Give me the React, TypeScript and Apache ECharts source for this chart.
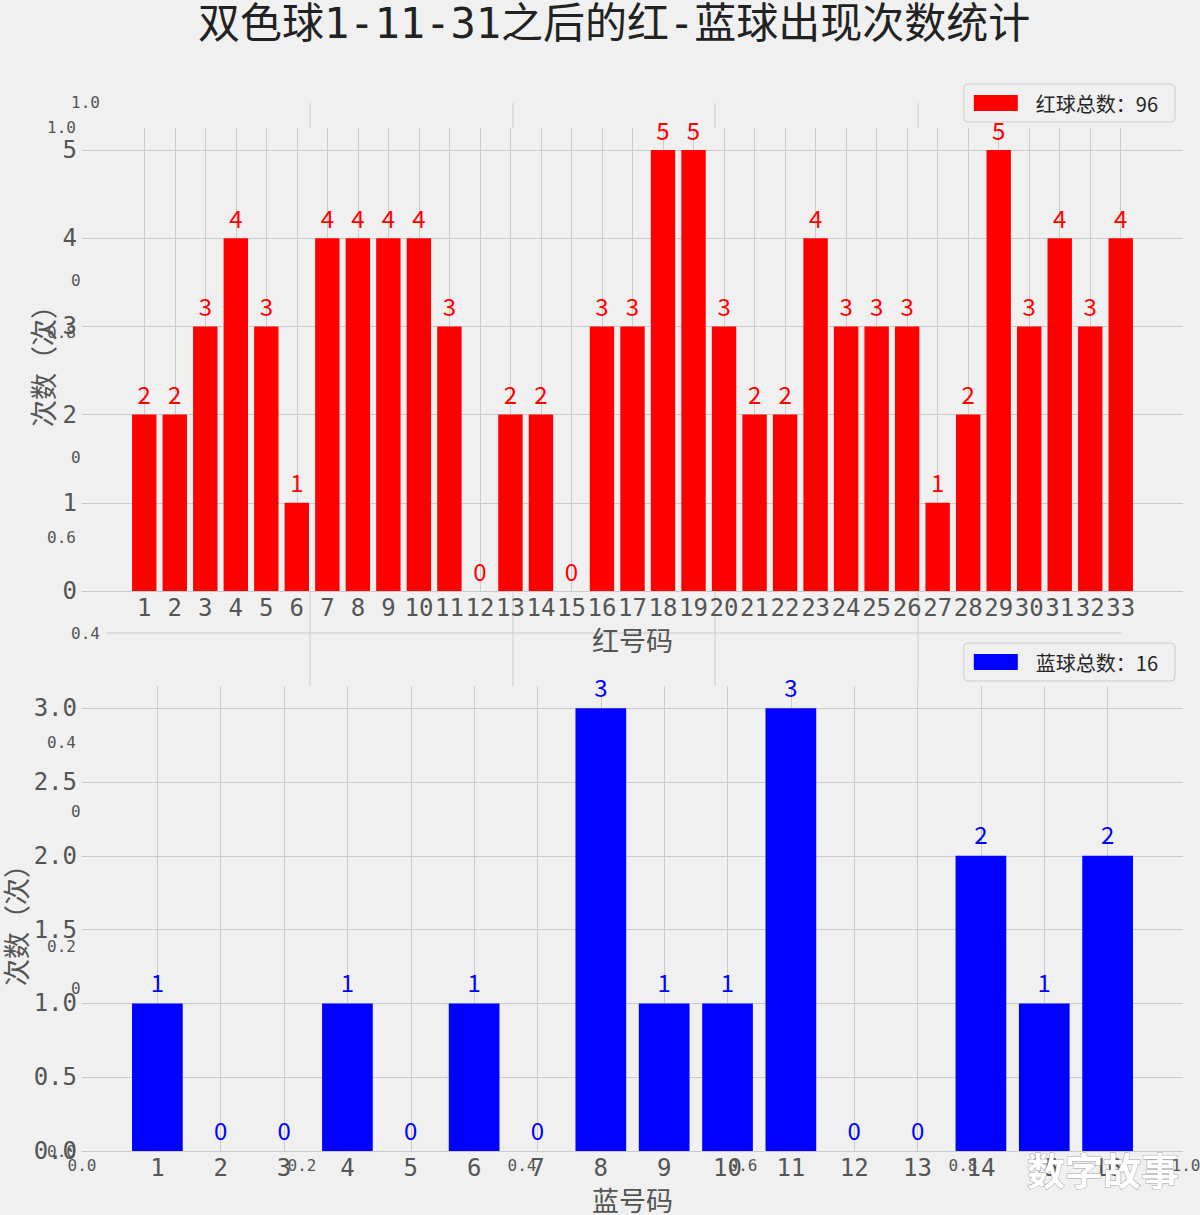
import React, { useEffect, useRef } from "react";
import * as echarts from "echarts";

// ---------------- data ----------------
const redNumbers = [1, 2, 3, 4, 5, 6, 7, 8, 9, 10, 11, 12, 13, 14, 15, 16, 17, 18, 19, 20, 21, 22, 23, 24, 25, 26, 27, 28, 29, 30, 31, 32, 33];
const redCounts = [2, 2, 3, 4, 3, 1, 4, 4, 4, 4, 3, 0, 2, 2, 0, 3, 3, 5, 5, 3, 2, 2, 4, 3, 3, 3, 1, 2, 5, 3, 4, 3, 4];
const blueNumbers = [1, 2, 3, 4, 5, 6, 7, 8, 9, 10, 11, 12, 13, 14, 15, 16];
const blueCounts = [1, 0, 0, 1, 0, 1, 0, 3, 1, 1, 3, 0, 0, 2, 1, 2];
const redYTicks = [0, 1, 2, 3, 4, 5];
const blueYTicks = [0, 0.5, 1, 1.5, 2, 2.5, 3];

const TITLE = "双色球1-11-31之后的红-蓝球出现次数统计";
const RED_X_NAME = "红号码";
const BLUE_X_NAME = "蓝号码";
const Y_NAME = "次数（次）";
const WATERMARK = "数字故事";

// stray labels of the hidden background axes (0..1 axes)
const bgTickTexts = ["1.0", "0.8", "0.6", "0.4", "0.2", "0.0"];

const FONT_CJK = '"Noto Sans CJK SC", "Noto Sans", sans-serif';
const FONT_NUM = '"DejaVu Sans Mono", "Noto Sans CJK SC", monospace';
const GRID_COLOR = "#cbcbcb";
const TEXT_GRAY = "#555555";

export default function App() {
  const ref = useRef<HTMLDivElement>(null);

  useEffect(() => {
    const chart = echarts.init(ref.current!, null, { renderer: "svg" });
    const redTotal = redCounts.reduce((a, b) => a + b, 0);
    const blueTotal = blueCounts.reduce((a, b) => a + b, 0);
    const redName = `红球总数：${redTotal}`;
    const blueName = `蓝球总数：${blueTotal}`;

    const smallText = (text: string, x: number, y: number, align: string) => ({
      type: "text",
      x,
      y,
      z: 1,
      silent: true,
      style: {
        text,
        font: `16px ${FONT_NUM}`,
        fill: TEXT_GRAY,
        textAlign: align,
        textVerticalAlign: "middle",
        align,
        verticalAlign: "middle",
      },
    });
    const gLine = (x1: number, y1: number, x2: number, y2: number) => ({
      type: "line",
      z: -1,
      silent: true,
      shape: { x1, y1, x2, y2 },
      style: { stroke: GRID_COLOR, lineWidth: 1 },
    });

    const graphics: any[] = [];
    // background axis A: vertical grid segments visible above top plot and in the gap
    [310, 513, 715, 918].forEach((x) => {
      graphics.push(gLine(x, 103, x, 128));
      graphics.push(gLine(x, 591, x, 686));
    });
    graphics.push(gLine(107, 633, 1121, 633));
    // axis A y labels (partly hidden)
    graphics.push(smallText(bgTickTexts[0], 100, 102, "right"));
    graphics.push(smallText("0", 71, 280, "left"));
    graphics.push(smallText("0", 71, 457, "left"));
    graphics.push(smallText(bgTickTexts[3], 100, 633, "right"));
    graphics.push(smallText("0", 71, 811, "left"));
    graphics.push(smallText("0", 71, 988, "left"));
    // axis B y labels
    const bY = [127, 332, 537, 742, 946, 1151];
    bY.forEach((y, i) => graphics.push(smallText(bgTickTexts[i], 76, y, "right")));
    // axis B x labels
    const bX = [82, 302, 522, 743, 963, 1186];
    bX.forEach((x, i) => graphics.push(smallText(bgTickTexts[5 - i], x, 1165, "center")));
    // watermark
    graphics.push({
      type: "text",
      x: 1103,
      y: 1168,
      z: 100,
      silent: true,
      style: {
        text: WATERMARK,
        font: `bold 38px ${FONT_CJK}`,
        fill: "#ffffff",
        stroke: "rgba(90,90,90,0.55)",
        lineWidth: 1,
        textAlign: "center",
        textVerticalAlign: "middle",
        align: "center",
        verticalAlign: "middle",
      },
    });

    const xAxisBase = (gridIndex: number, min: number, max: number, values: number[], name: string) => ({
      gridIndex,
      type: "value",
      min,
      max,
      name,
      nameLocation: "middle",
      nameGap: 35,
      nameMoveOverlap: false,
      nameTextStyle: { fontSize: 27, color: TEXT_GRAY, fontFamily: FONT_CJK },
      axisLine: { show: false },
      axisTick: { show: false, customValues: values },
      axisLabel: {
        customValues: values,
        fontSize: 24,
        color: TEXT_GRAY,
        fontFamily: FONT_NUM,
        margin: 5,
        formatter: (v: number) => String(v),
      },
      splitLine: { show: true, lineStyle: { color: GRID_COLOR, width: 1 } },
    });
    const yAxisBase = (gridIndex: number, max: number, values: number[], digits: number, nameGap: number) => ({
      gridIndex,
      type: "value",
      min: 0,
      max,
      name: Y_NAME,
      nameLocation: "middle",
      nameRotate: 90,
      nameGap,
      nameMoveOverlap: false,
      nameTextStyle: { fontSize: 27, color: TEXT_GRAY, fontFamily: FONT_CJK },
      axisLine: { show: false },
      axisTick: { show: false, customValues: values },
      axisLabel: {
        customValues: values,
        fontSize: 24,
        color: TEXT_GRAY,
        fontFamily: FONT_NUM,
        margin: 5,
        formatter: (v: number) => v.toFixed(digits),
      },
      splitLine: { show: true, lineStyle: { color: GRID_COLOR, width: 1 } },
    });

    const legendBase = (name: string, top: number) => ({
      data: [name],
      right: 25,
      top,
      icon: "rect",
      itemWidth: 44,
      itemHeight: 16,
      selectedMode: false,
      backgroundColor: "#f0f0f0",
      borderColor: "#cccccc",
      borderWidth: 1,
      borderRadius: 4,
      padding: [9, 17, 9, 10],
      textStyle: { fontSize: 20, color: "#262626", fontFamily: FONT_CJK, padding: [0, 0, 0, 13] },
    });

    const barLabel = (color: string, distance: number) => ({
      show: true,
      position: "top",
      distance,
      color,
      fontSize: 24,
      fontFamily: FONT_CJK,
      formatter: (p: any) => String(p.value[1]),
    });

    const option: any = {
      animation: false,
      backgroundColor: "#f0f0f0",
      title: {
        text: TITLE,
        left: 198,
        top: 2,
        padding: 0,
        textStyle: { fontSize: 42, fontWeight: "normal", color: "#222222", fontFamily: FONT_NUM },
      },
      legend: [legendBase(redName, 84), legendBase(blueName, 643)],
      grid: [
        { left: 82, right: 17, top: 128, height: 463, containLabel: false, outerBoundsMode: "none" },
        { left: 82, right: 17, top: 686, height: 465, containLabel: false, outerBoundsMode: "none" },
      ],
      xAxis: [
        xAxisBase(0, -1.04, 35.04, redNumbers, RED_X_NAME),
        xAxisBase(1, -0.19, 17.19, blueNumbers, BLUE_X_NAME),
      ],
      yAxis: [yAxisBase(0, 5.25, redYTicks, 0, 26), yAxisBase(1, 3.15, blueYTicks, 1, 53)],
      series: [
        {
          name: redName,
          type: "bar",
          xAxisIndex: 0,
          yAxisIndex: 0,
          barWidth: 24.4,
          itemStyle: { color: "#ff0000" },
          data: redNumbers.map((n, i) => [n, redCounts[i]]),
          label: barLabel("#ff0000", 9),
        },
        {
          name: blueName,
          type: "bar",
          xAxisIndex: 1,
          yAxisIndex: 1,
          barWidth: 50.7,
          itemStyle: { color: "#0000ff" },
          data: blueNumbers.map((n, i) => [n, blueCounts[i]]),
          label: barLabel("#0000ff", 10),
        },
      ],
      graphic: graphics,
    };

    chart.setOption(option);
    return () => chart.dispose();
  }, []);

  return (
    <div
      ref={ref}
      style={{ position: "absolute", left: 0, top: 0, width: 1200, height: 1215 }}
    />
  );
}
